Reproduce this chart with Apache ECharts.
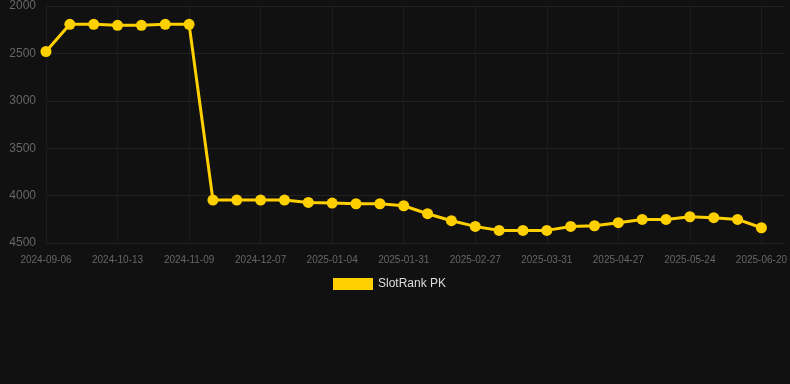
<!DOCTYPE html>
<html>
<head>
<meta charset="utf-8">
<script src="https://cdn.jsdelivr.net/npm/echarts@6/dist/echarts.min.js"></script>
<style>
html,body{margin:0;padding:0;background:#111111;}
#c{width:790px;height:384px;}
</style>
</head>
<body>
<div id="c"></div>
<script>
const categories = [
  '2024-09-06','2024-09-18','2024-09-30','2024-10-13','2024-10-22','2024-10-31',
  '2024-11-09','2024-11-18','2024-11-27','2024-12-07','2024-12-16','2024-12-25',
  '2025-01-04','2025-01-13','2025-01-22','2025-01-31','2025-02-09','2025-02-18',
  '2025-02-27','2025-03-10','2025-03-20','2025-03-31','2025-04-09','2025-04-18',
  '2025-04-27','2025-05-06','2025-05-15','2025-05-24','2025-06-02','2025-06-11',
  '2025-06-20','2025-06-29'
];
const rankValues = [
  2480, 2193, 2193, 2204, 2204, 2193, 2193,
  4047, 4047, 4047, 4047, 4072, 4079, 4086, 4086, 4107,
  4191, 4265, 4325, 4367, 4367, 4367, 4325, 4318, 4286,
  4251, 4251, 4223, 4233, 4251, 4339, null
];
const yTicks = { min: 2000, max: 4500, interval: 500 };

const chart = echarts.init(document.getElementById('c'), null, { renderer: 'canvas' });
chart.setOption({
  backgroundColor: '#111111',
  animation: false,
  grid: { left: 46, right: 4, top: 6, bottom: 141, containLabel: false },
  legend: {
    top: 278,
    left: 333,
    icon: 'rect',
    itemWidth: 40,
    itemHeight: 12,
    itemGap: 6,
    padding: 0,
    textStyle: { color: '#dddddd', fontSize: 12, fontFamily: 'Liberation Sans, Arial, sans-serif' },
    data: ['SlotRank PK']
  },
  xAxis: {
    type: 'category',
    data: categories,
    boundaryGap: false,
    axisLine: { show: false },
    axisTick: { show: false },
    axisLabel: {
      interval: 2,
      color: '#666666',
      fontSize: 10,
      margin: 12,
      fontFamily: 'Liberation Sans, Arial, sans-serif'
    },
    splitLine: { show: true, interval: 2, lineStyle: { color: '#1c1c1c', width: 1 } }
  },
  yAxis: {
    type: 'value',
    inverse: true,
    min: yTicks.min,
    max: yTicks.max,
    interval: yTicks.interval,
    axisLine: { show: false },
    axisTick: { show: false },
    axisLabel: {
      color: '#666666',
      fontSize: 12,
      margin: 10,
      formatter: function (v) { return String(v); },
      fontFamily: 'Liberation Sans, Arial, sans-serif'
    },
    splitLine: { show: true, lineStyle: { color: '#222222', width: 1 } }
  },
  series: [{
    name: 'SlotRank PK',
    type: 'line',
    data: rankValues,
    symbol: 'circle',
    symbolSize: 11,
    showSymbol: true,
    connectNulls: false,
    lineStyle: { color: '#FFD000', width: 3 },
    itemStyle: { color: '#FFD000' }
  }]
});
</script>
</body>
</html>
